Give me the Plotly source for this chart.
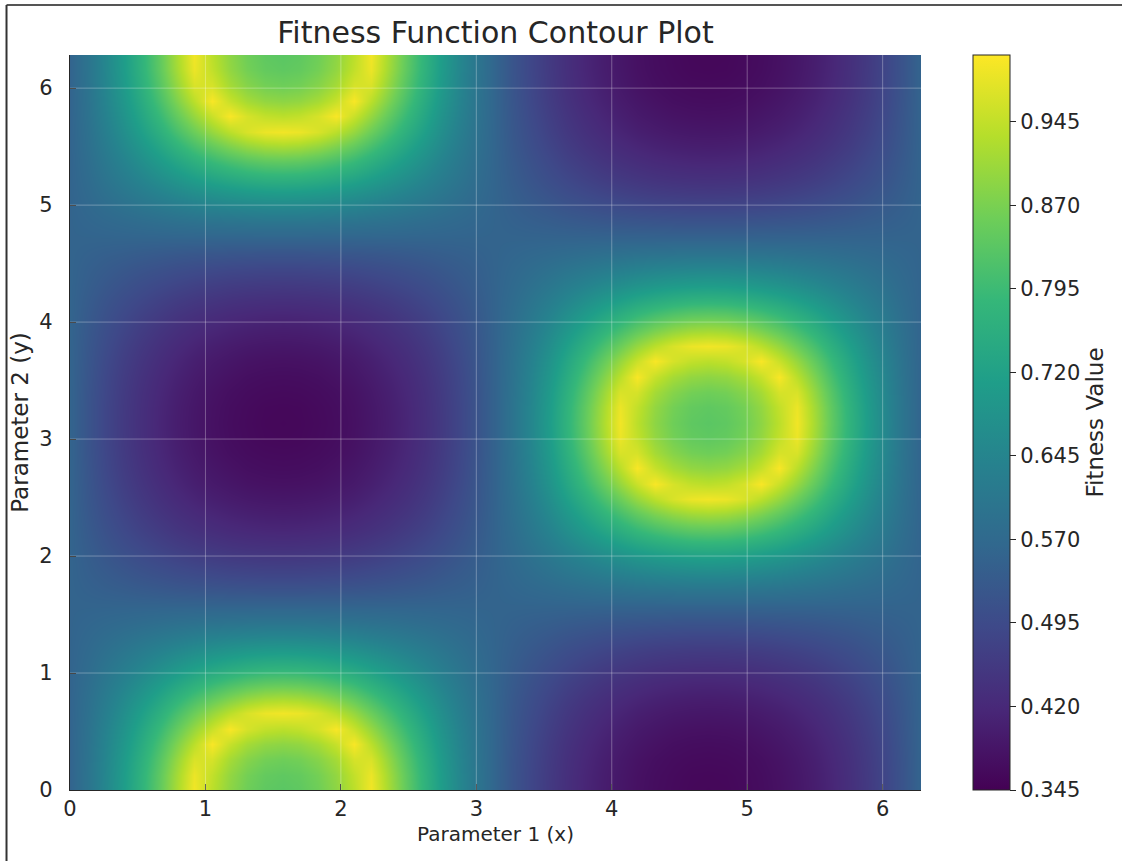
import numpy as np
import plotly.graph_objects as go

# The picture is mirror-symmetric about x = pi/2, 3pi/2 and y = 0, pi, 2pi, so one
# quarter-cell is listed: row m = |cos(y)| step, column k = |sin(x)| step (0..12).
# peak_quadrant: cells where the bright rings are (sign(sin x) == sign(cos y))
peak_quadrant = [
    [0.556, 0.556, 0.556, 0.556, 0.556, 0.556, 0.556, 0.556, 0.556, 0.556, 0.556, 0.556, 0.556],
    [0.556, 0.561, 0.566, 0.571, 0.576, 0.581, 0.586, 0.589, 0.593, 0.595, 0.597, 0.599, 0.599],
    [0.556, 0.566, 0.577, 0.588, 0.599, 0.609, 0.618, 0.627, 0.635, 0.641, 0.645, 0.648, 0.649],
    [0.556, 0.571, 0.588, 0.605, 0.622, 0.638, 0.654, 0.668, 0.681, 0.691, 0.699, 0.704, 0.706],
    [0.556, 0.576, 0.599, 0.622, 0.645, 0.669, 0.691, 0.713, 0.732, 0.747, 0.759, 0.767, 0.769],
    [0.556, 0.581, 0.609, 0.638, 0.669, 0.700, 0.730, 0.759, 0.786, 0.808, 0.825, 0.836, 0.839],
    [0.556, 0.586, 0.618, 0.654, 0.691, 0.730, 0.769, 0.807, 0.842, 0.872, 0.895, 0.910, 0.915],
    [0.556, 0.589, 0.627, 0.668, 0.713, 0.759, 0.807, 0.854, 0.899, 0.937, 0.967, 0.987, 0.993],
    [0.556, 0.593, 0.635, 0.681, 0.732, 0.786, 0.842, 0.899, 0.952, 1.000, 0.965, 0.945, 0.938],
    [0.556, 0.595, 0.641, 0.691, 0.747, 0.808, 0.872, 0.937, 1.000, 0.949, 0.915, 0.896, 0.890],
    [0.556, 0.597, 0.645, 0.699, 0.759, 0.825, 0.895, 0.967, 0.965, 0.915, 0.883, 0.864, 0.858],
    [0.556, 0.599, 0.648, 0.704, 0.767, 0.836, 0.910, 0.987, 0.945, 0.896, 0.864, 0.845, 0.839],
    [0.556, 0.599, 0.649, 0.706, 0.769, 0.839, 0.915, 0.993, 0.938, 0.890, 0.858, 0.839, 0.833],
]
# trough_quadrant: cells where the dark basins are (opposite signs)
trough_quadrant = [
    [0.556, 0.556, 0.556, 0.556, 0.556, 0.556, 0.556, 0.556, 0.556, 0.556, 0.556, 0.556, 0.556],
    [0.556, 0.550, 0.545, 0.541, 0.536, 0.532, 0.528, 0.525, 0.523, 0.521, 0.519, 0.518, 0.518],
    [0.556, 0.545, 0.536, 0.527, 0.518, 0.511, 0.504, 0.499, 0.494, 0.490, 0.488, 0.486, 0.486],
    [0.556, 0.541, 0.527, 0.514, 0.502, 0.492, 0.483, 0.475, 0.469, 0.464, 0.461, 0.459, 0.458],
    [0.556, 0.536, 0.518, 0.502, 0.488, 0.475, 0.464, 0.455, 0.448, 0.442, 0.438, 0.436, 0.435],
    [0.556, 0.532, 0.511, 0.492, 0.475, 0.461, 0.448, 0.438, 0.430, 0.423, 0.419, 0.416, 0.415],
    [0.556, 0.528, 0.504, 0.483, 0.464, 0.448, 0.435, 0.424, 0.415, 0.408, 0.403, 0.400, 0.399],
    [0.556, 0.525, 0.499, 0.475, 0.455, 0.438, 0.424, 0.412, 0.402, 0.395, 0.390, 0.387, 0.386],
    [0.556, 0.523, 0.494, 0.469, 0.448, 0.430, 0.415, 0.402, 0.392, 0.385, 0.379, 0.376, 0.375],
    [0.556, 0.521, 0.490, 0.464, 0.442, 0.423, 0.408, 0.395, 0.385, 0.377, 0.371, 0.368, 0.367],
    [0.556, 0.519, 0.488, 0.461, 0.438, 0.419, 0.403, 0.390, 0.379, 0.371, 0.366, 0.363, 0.362],
    [0.556, 0.518, 0.486, 0.459, 0.436, 0.416, 0.400, 0.387, 0.376, 0.368, 0.363, 0.359, 0.358],
    [0.556, 0.518, 0.486, 0.458, 0.435, 0.415, 0.399, 0.386, 0.375, 0.367, 0.362, 0.358, 0.357],
]

x_ticks = [0, 1, 2, 3, 4, 5, 6]
y_ticks = [0, 1, 2, 3, 4, 5, 6]
cbar_ticks = [0.345, 0.420, 0.495, 0.570, 0.645, 0.720, 0.795, 0.870, 0.945]

# sample positions (0 .. 2*pi, 49 steps)
x_vals = np.linspace(0, 2 * np.pi, 49)
y_vals = np.linspace(0, 2 * np.pi, 49)


def full_row(first, second):
    # mirror a 13-value quarter row out to the full 49-sample row
    return first + first[-2::-1] + second[1:] + second[-2::-1]


z = []
for j in range(49):
    if j <= 12:
        m = 12 - j
        z.append(full_row(peak_quadrant[m], trough_quadrant[m]))
    elif j <= 24:
        m = j - 12
        z.append(full_row(trough_quadrant[m], peak_quadrant[m]))
    elif j <= 36:
        m = 36 - j
        z.append(full_row(trough_quadrant[m], peak_quadrant[m]))
    else:
        m = j - 36
        z.append(full_row(peak_quadrant[m], trough_quadrant[m]))

FONT = "DejaVu Sans"
TXT = "#262626"

fig = go.Figure()
fig.add_trace(go.Contour(
    x=x_vals, y=y_vals, z=z,
    colorscale="Viridis",
    zmin=0.345, zmax=1.005, zauto=False,
    autocontour=False,
    contours=dict(start=0.345, end=1.005, size=0.015, coloring="heatmap", showlines=False),
    line=dict(width=0),
    colorbar=dict(
        x=1.0611, xanchor="left", xref="paper", xpad=0,
        y=0, yanchor="bottom", len=1.0, lenmode="fraction", ypad=0,
        thickness=37,
        outlinewidth=1, outlinecolor=TXT,
        tickvals=cbar_ticks, tickformat=".3f",
        ticks="outside", ticklen=6, tickcolor=TXT,
        tickfont=dict(family=FONT, size=21, color=TXT),
        title=dict(text="Fitness Value", side="right",
                   font=dict(family=FONT, size=23, color=TXT)),
    ),
    hoverinfo="skip",
))

shapes = []
for v in x_ticks[1:]:
    shapes.append(dict(type="line", xref="x", yref="paper", x0=v, x1=v, y0=0, y1=1,
                       line=dict(color="rgba(255,255,255,0.30)", width=1), layer="above"))
for v in y_ticks[1:]:
    shapes.append(dict(type="line", xref="paper", yref="y", x0=0, x1=1, y0=v, y1=v,
                       line=dict(color="rgba(255,255,255,0.30)", width=1), layer="above"))
# frame lines of the original screenshot (top and left)
shapes.append(dict(type="line", xref="paper", yref="paper", x0=-0.0746, x1=1.24, y0=1.0680, y1=1.0680,
                   line=dict(color="#555555", width=2), layer="above"))
shapes.append(dict(type="line", xref="paper", yref="paper", x0=-0.0746, x1=-0.0746, y0=-0.1, y1=1.0680,
                   line=dict(color="#333333", width=2), layer="above"))

fig.update_layout(
    width=1122, height=861,
    margin=dict(l=70, r=201, t=55, b=71),
    paper_bgcolor="white", plot_bgcolor="white",
    font=dict(family=FONT, color=TXT),
    title=dict(text="Fitness Function Contour Plot", x=0.5, xref="paper",
               y=1 - 32 / 861, yref="container", yanchor="middle", xanchor="center",
               font=dict(family=FONT, size=30, color=TXT)),
    shapes=shapes,
    showlegend=False,
)
fig.update_xaxes(
    range=[0, 2 * np.pi], tickvals=x_ticks, showgrid=False, zeroline=False,
    ticks="inside", ticklen=6, tickcolor=TXT, showline=True, linecolor=TXT, linewidth=1.2,
    tickfont=dict(family=FONT, size=21, color=TXT), layer="above traces",
    title=dict(text="Parameter 1 (x)", font=dict(family=FONT, size=20, color=TXT), standoff=6),
)
fig.update_yaxes(
    range=[0, 2 * np.pi], tickvals=y_ticks, showgrid=False, zeroline=False,
    ticks="inside", ticklen=6, tickcolor=TXT, showline=True, linecolor=TXT, linewidth=1.2,
    tickfont=dict(family=FONT, size=21, color=TXT), layer="above traces", ticklabelstandoff=12,
    title=dict(text="Parameter 2 (y)", font=dict(family=FONT, size=23, color=TXT), standoff=4),
)

fig.write_html("out.html", config={"displayModeBar": False},
               post_script="document.body.style.margin='0px';")
